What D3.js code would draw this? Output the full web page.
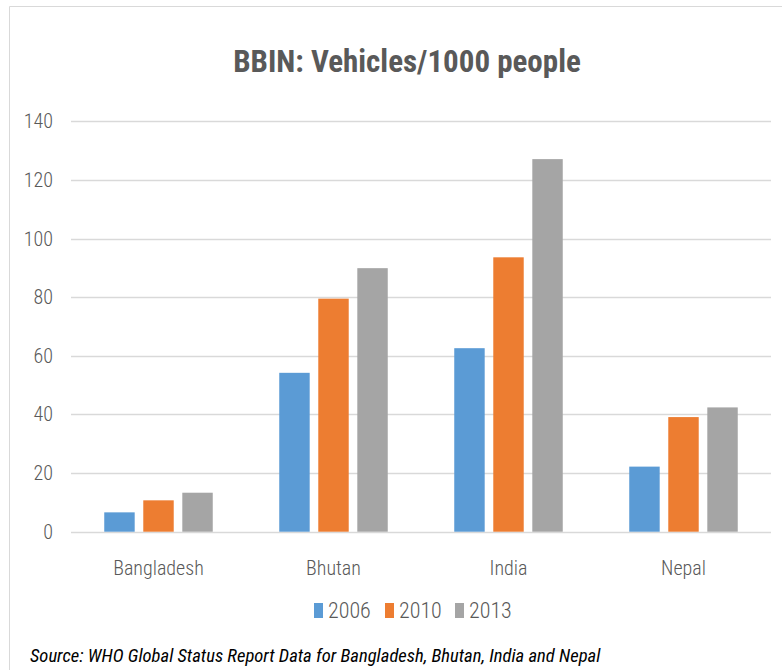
<!DOCTYPE html>
<html>
<head>
<meta charset="utf-8">
<script src="https://d3js.org/d3.v7.min.js"></script>
<title>BBIN vehicles</title>
<style>
body { margin: 0; background: #fff; }
text { font-family: "Liberation Sans Narrow", "Arial Narrow", "Roboto Condensed", sans-serif; fill: #595959; }
</style>
</head>
<body>
<script>

var countries = ["Bangladesh", "Bhutan", "India", "Nepal"];
var years = ["2006", "2010", "2013"];
var v2006 = [6.6, 54.2, 62.6, 22.2];
var v2010 = [10.7, 79.5, 93.6, 39.1];
var v2013 = [13.3, 89.9, 127.1, 42.4];
var yTicks = [0, 20, 40, 60, 80, 100, 120, 140];
var colors = ["#5b9bd5", "#ed7d31", "#a5a5a5"];
var series = [v2006, v2010, v2013];

var width = 782,
    height = 670;

var svg = d3.select( "body" )
  .append( "svg" )
  .attr( "width", width )
  .attr( "height", height );

// chart frame (right and bottom edges are cut off)
svg.append( "path" )
  .attr( "d", "M9.5,670V6.5H782" )
  .attr( "fill", "none" )
  .attr( "stroke", "#d9d9d9" );

svg.append( "text" )
  .attr( "x", 407 )
  .attr( "y", 72 )
  .attr( "text-anchor", "middle" )
  .style( "font-size", "31px" )
  .style( "font-weight", "bold" )
  .text( "BBIN: Vehicles/1000 people" );

var x0 = d3.scaleBand()
    .domain( countries )
    .range( [71, 771] )
    .paddingInner( 0.38 )
    .paddingOuter( 0.19 );

var x1 = d3.scaleBand()
    .domain( years )
    .range( [0, x0.bandwidth()] )
    .paddingInner( 0.22 );

var y = d3.scaleLinear()
    .domain( [0, 140] )
    .range( [531.7, 121.3] );

var g = svg.append( "g" );

g.selectAll( "line.grid" )
  .data( yTicks )
  .enter()
  .append( "line" )
  .attr( "class", "grid" )
  .attr( "x1", 71 )
  .attr( "x2", 771 )
  .attr( "y1", function(d) { return Math.round(y(d)) + 0.5; } )
  .attr( "y2", function(d) { return Math.round(y(d)) + 0.5; } )
  .attr( "stroke", "#d9d9d9" )
  .attr( "stroke-width", 1.5 );

g.selectAll( "text.ytick" )
  .data( yTicks )
  .enter()
  .append( "text" )
  .attr( "class", "ytick" )
  .attr( "x", 53 )
  .attr( "y", function(d) { return y(d) + 7; } )
  .attr( "text-anchor", "end" )
  .style( "font-size", "20px" )
  .style( "font-weight", "300" )
  .text( function(d) { return d; } );

series.forEach( function(vals, i) {
  g.selectAll( "rect.s" + i )
    .data( vals )
    .enter()
    .append( "rect" )
    .attr( "class", "s" + i )
    .attr( "x", function(d, j) { return x0(countries[j]) + x1(years[i]); } )
    .attr( "y", function(d) { return y(d); } )
    .attr( "width", x1.bandwidth() )
    .attr( "height", function(d) { return y(0) - y(d); } )
    .attr( "fill", colors[i] );
});

g.selectAll( "text.cat" )
  .data( countries )
  .enter()
  .append( "text" )
  .attr( "class", "cat" )
  .attr( "x", function(d) { return x0(d) + x0.bandwidth() / 2; } )
  .attr( "y", 575 )
  .attr( "text-anchor", "middle" )
  .style( "font-size", "20px" )
  .style( "font-weight", "300" )
  .text( function(d) { return d; } );

// legend
var legendX = [314, 385, 455];
var leg = svg.selectAll( "g.leg" )
  .data( years )
  .enter()
  .append( "g" )
  .attr( "class", "leg" )
  .attr( "transform", function(d, i) { return "translate(" + legendX[i] + ",0)"; } );

leg.append( "rect" )
  .attr( "x", 0 )
  .attr( "y", 603 )
  .attr( "width", 9 )
  .attr( "height", 15 )
  .attr( "fill", function(d, i) { return colors[i]; } );

leg.append( "text" )
  .attr( "x", 14 )
  .attr( "y", 618 )
  .style( "font-size", "22px" )
  .style( "font-weight", "300" )
  .text( function(d) { return d; } );

svg.append( "text" )
  .attr( "x", 30 )
  .attr( "y", 662 )
  .style( "font-size", "18.6px" )
  .style( "font-style", "italic" )
  .style( "fill", "#000" )
  .text( "Source: WHO Global Status Report Data for Bangladesh, Bhutan, India and Nepal" );

</script>
</body>
</html>
